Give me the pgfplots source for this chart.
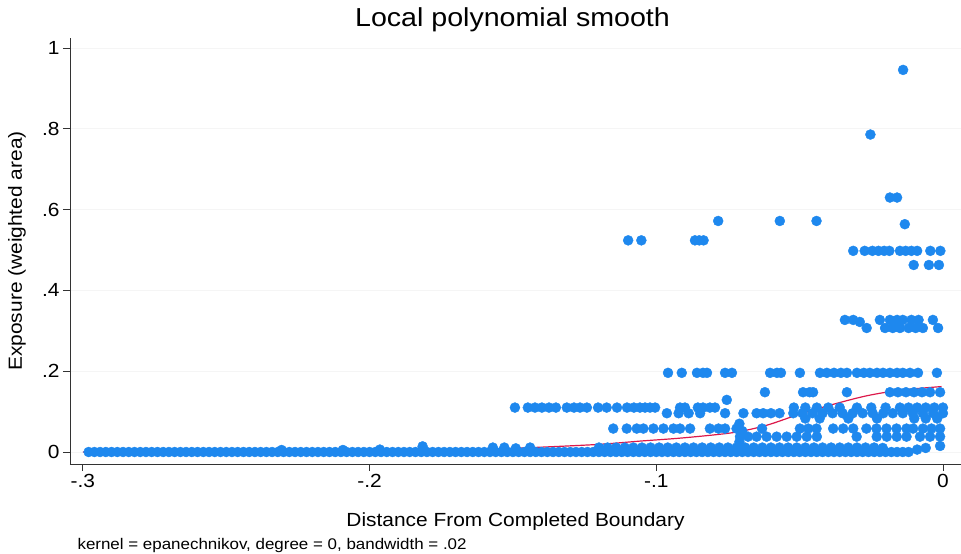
\documentclass[border=0pt]{standalone}
\usepackage{fontspec}
\setmainfont[FakeStretch=1.1]{Liberation Sans}
\usepackage{pgfplots}
\pgfplotsset{compat=1.18}

\definecolor{stblue}{RGB}{30,136,238}
\definecolor{stred}{RGB}{220,25,75}

\begin{document}
\begin{tikzpicture}
\useasboundingbox (-70pt,-90pt) rectangle (891pt,464pt);
\begin{axis}[
    name=ax,
    width=891pt, height=426pt, scale only axis,
    xmin=-0.3045, xmax=0.0063,
    ymin=-0.0297, ymax=1.025,
    axis x line*=bottom, axis y line*=left,
    axis line style={-, black!80, line width=0.8pt},
    tick align=outside, major tick length=7pt,
    tick style={black!80, line width=0.8pt},
    xtick={-0.3,-0.2,-0.1,0}, xticklabels={-.3,-.2,-.1,0},
    ytick={0,0.2,0.4,0.6,0.8,1}, yticklabels={0,.2,.4,.6,.8,1},
    ymajorgrids, grid style={black!4, line width=0.8pt},
    tick label style={font=\fontsize{19}{22}\selectfont},
    xlabel={Distance From Completed Boundary},
    ylabel={Exposure (weighted area)},
    label style={font=\fontsize{19}{22}\selectfont},
    xlabel style={at={(axis description cs:0.5,0)}, anchor=base, yshift=-62pt},
    ylabel style={at={(axis description cs:-0.0595,0.5)}, anchor=center},
    title={Local polynomial smooth},
    title style={at={(axis description cs:0.5,1)}, anchor=base, yshift=5pt, xshift=-3pt,
                 font=\fontsize{26}{30}\selectfont},
    dots/.style={only marks, mark=*, mark size=5pt, color=stblue, mark options={draw=none, fill=stblue}},
]
% bottom band, y = 0
\addplot[dots] coordinates {
(-0.298,0) (-0.296,0) (-0.294,0) (-0.292,0) (-0.290,0) (-0.288,0) (-0.286,0) (-0.284,0)
(-0.282,0) (-0.280,0) (-0.278,0) (-0.276,0) (-0.274,0) (-0.272,0) (-0.270,0) (-0.268,0)
(-0.266,0) (-0.264,0) (-0.262,0) (-0.260,0) (-0.258,0) (-0.256,0) (-0.254,0) (-0.252,0)
(-0.250,0) (-0.248,0) (-0.246,0) (-0.244,0) (-0.242,0) (-0.240,0) (-0.238,0) (-0.236,0)
(-0.234,0) (-0.232,0) (-0.230,0) (-0.228,0) (-0.226,0) (-0.224,0) (-0.222,0) (-0.220,0)
(-0.218,0) (-0.216,0) (-0.214,0) (-0.212,0) (-0.210,0) (-0.208,0) (-0.206,0) (-0.204,0)
(-0.202,0) (-0.200,0) (-0.198,0) (-0.196,0) (-0.194,0) (-0.192,0) (-0.190,0) (-0.188,0)
(-0.186,0) (-0.184,0) (-0.182,0) (-0.180,0) (-0.178,0) (-0.176,0) (-0.174,0) (-0.172,0)
(-0.170,0) (-0.168,0) (-0.166,0) (-0.164,0) (-0.162,0) (-0.160,0) (-0.158,0) (-0.156,0)
(-0.154,0) (-0.152,0) (-0.150,0) (-0.148,0) (-0.146,0) (-0.144,0) (-0.142,0) (-0.140,0)
(-0.138,0) (-0.136,0) (-0.134,0) (-0.132,0) (-0.130,0) (-0.128,0) (-0.126,0) (-0.124,0)
(-0.122,0) (-0.120,0) (-0.118,0) (-0.116,0) (-0.114,0) (-0.112,0) (-0.110,0) (-0.108,0)
(-0.106,0) (-0.104,0) (-0.102,0) (-0.100,0) (-0.098,0) (-0.096,0) (-0.094,0) (-0.092,0)
(-0.090,0) (-0.088,0) (-0.086,0) (-0.084,0) (-0.082,0) (-0.080,0) (-0.078,0) (-0.076,0)
(-0.074,0) (-0.072,0) (-0.070,0) (-0.068,0) (-0.066,0) (-0.064,0) (-0.062,0) (-0.060,0)
(-0.058,0) (-0.056,0) (-0.054,0) (-0.052,0) (-0.050,0) (-0.048,0) (-0.046,0) (-0.044,0)
(-0.042,0) (-0.040,0) (-0.038,0) (-0.036,0) (-0.034,0) (-0.032,0) (-0.030,0) (-0.028,0)
(-0.026,0) (-0.024,0) (-0.022,0) (-0.020,0) (-0.018,0) (-0.016,0) (-0.014,0) (-0.012,0)
(-0.009,0.006) (-0.006,0.010) (-0.001,0.015)
};
% small bumps and second low row
\addplot[dots] coordinates {
(-0.2307,0.005) (-0.2093,0.005) (-0.1964,0.006) (-0.1815,0.014) (-0.157,0.011)
(-0.153,0.011) (-0.149,0.009) (-0.144,0.011)
(-0.120,0.011) (-0.117,0.011) (-0.114,0.011) (-0.111,0.011) (-0.108,0.011) (-0.105,0.011)
(-0.102,0.011) (-0.099,0.011) (-0.096,0.011) (-0.093,0.011) (-0.090,0.011) (-0.087,0.011)
(-0.084,0.011) (-0.081,0.011) (-0.078,0.011) (-0.075,0.011) (-0.072,0.011) (-0.069,0.011)
(-0.066,0.011) (-0.063,0.011) (-0.060,0.011) (-0.057,0.011) (-0.054,0.011) (-0.051,0.011)
(-0.048,0.011) (-0.045,0.011) (-0.042,0.011) (-0.039,0.011) (-0.036,0.011) (-0.033,0.011)
(-0.030,0.011) (-0.027,0.011) (-0.024,0.011) (-0.021,0.010)
};
% row around .04
\addplot[dots] coordinates {
(-0.0708,0.038) (-0.0680,0.038) (-0.0650,0.038) (-0.0615,0.038) (-0.0580,0.038)
(-0.0545,0.038) (-0.0510,0.038) (-0.0475,0.038) (-0.0440,0.038) (-0.0301,0.038)
(-0.0231,0.038) (-0.0196,0.038) (-0.0161,0.038) (-0.0127,0.038) (-0.0080,0.038)
(-0.0045,0.038) (-0.0010,0.038)
(-0.0710,0.025) (-0.0710,0.070) (-0.0700,0.052)
};
% row around .06
\addplot[dots] coordinates {
(-0.1150,0.058) (-0.1103,0.058) (-0.1068,0.058) (-0.1045,0.058) (-0.1010,0.058)
(-0.0975,0.058) (-0.0940,0.058) (-0.0917,0.058) (-0.0882,0.058) (-0.0813,0.058)
(-0.0783,0.058) (-0.0760,0.058) (-0.0720,0.058) (-0.0631,0.058) (-0.0499,0.058)
(-0.0470,0.058) (-0.0441,0.058) (-0.0383,0.058) (-0.0348,0.058) (-0.0313,0.058)
(-0.0267,0.058) (-0.0232,0.058) (-0.0197,0.058) (-0.0162,0.058) (-0.0127,0.058)
(-0.0104,0.058) (-0.0070,0.058) (-0.0040,0.058) (-0.0010,0.058)
};
% rows around .08 and .1
\addplot[dots] coordinates {
(-0.0480,0.083) (-0.0430,0.083) (-0.0330,0.083) (-0.0230,0.083) (-0.0100,0.083)
(-0.0060,0.083) (-0.0020,0.083)
(-0.0963,0.096) (-0.0922,0.096) (-0.0887,0.096) (-0.0847,0.096) (-0.0760,0.096)
(-0.0696,0.096) (-0.0650,0.096) (-0.0627,0.096) (-0.0600,0.096) (-0.0570,0.096)
(-0.0522,0.096) (-0.0490,0.096) (-0.0455,0.096) (-0.0420,0.096) (-0.0385,0.096)
(-0.0350,0.096) (-0.0315,0.096) (-0.0280,0.096) (-0.0245,0.096) (-0.0208,0.096)
(-0.0175,0.096) (-0.0140,0.096) (-0.0105,0.096) (-0.0070,0.096) (-0.0034,0.096)
(0.0000,0.096)
};
% row around .11
\addplot[dots] coordinates {
(-0.1493,0.110) (-0.1448,0.110) (-0.1423,0.110) (-0.1399,0.110) (-0.1374,0.110)
(-0.1350,0.110) (-0.1312,0.110) (-0.1287,0.110) (-0.1266,0.110) (-0.1242,0.110)
(-0.1203,0.110) (-0.1173,0.110) (-0.1137,0.110) (-0.1102,0.110) (-0.1078,0.110)
(-0.1057,0.110) (-0.1039,0.110) (-0.1022,0.110) (-0.1004,0.110)
(-0.0917,0.110) (-0.0900,0.110) (-0.0855,0.110) (-0.0837,0.110) (-0.0813,0.110)
(-0.0795,0.110)
(-0.0520,0.110) (-0.0480,0.110) (-0.0440,0.110) (-0.0400,0.110) (-0.0360,0.110)
(-0.0300,0.110) (-0.0250,0.110) (-0.0200,0.110) (-0.0150,0.110) (-0.0120,0.110)
(-0.0090,0.110) (-0.0060,0.110) (-0.0030,0.110) (0.0000,0.110)
(-0.0754,0.129)
};
% row around .15
\addplot[dots] coordinates {
(-0.0621,0.148) (-0.0488,0.148) (-0.0465,0.148) (-0.0453,0.148) (-0.0335,0.148)
(-0.0185,0.148) (-0.0157,0.148) (-0.0129,0.148) (-0.0101,0.148) (-0.0073,0.148)
(-0.0045,0.148) (-0.0010,0.148)
};
% row around .2
\addplot[dots] coordinates {
(-0.0959,0.196) (-0.0911,0.196) (-0.0858,0.196) (-0.0837,0.196) (-0.0823,0.196)
(-0.0760,0.196) (-0.0736,0.196) (-0.0603,0.196) (-0.0579,0.196) (-0.0565,0.196)
(-0.0499,0.196) (-0.0429,0.196) (-0.0405,0.196) (-0.0380,0.196) (-0.0356,0.196)
(-0.0335,0.196) (-0.0300,0.196) (-0.0276,0.196) (-0.0255,0.196) (-0.0230,0.196)
(-0.0209,0.196) (-0.0185,0.196) (-0.0160,0.196) (-0.0140,0.196) (-0.0115,0.196)
(-0.0087,0.196) (-0.0021,0.196)
};
% rows around .3
\addplot[dots] coordinates {
(-0.0342,0.327) (-0.0313,0.327) (-0.0290,0.322) (-0.0220,0.327) (-0.0185,0.327)
(-0.0160,0.327) (-0.0140,0.327) (-0.0110,0.327) (-0.0085,0.327) (-0.0035,0.327)
(-0.0266,0.307) (-0.0202,0.307) (-0.0175,0.307) (-0.0150,0.307) (-0.0120,0.307)
(-0.0095,0.307) (-0.0070,0.307) (-0.0017,0.307)
};
% upper points
\addplot[dots] coordinates {
(-0.0313,0.498) (-0.0273,0.498) (-0.0246,0.498) (-0.0225,0.498) (-0.0205,0.498)
(-0.0187,0.498) (-0.0150,0.498) (-0.0130,0.498) (-0.0110,0.498) (-0.0090,0.498)
(-0.0044,0.498) (-0.0009,0.498)
(-0.0102,0.463) (-0.0049,0.463) (-0.0014,0.463)
(-0.1098,0.524) (-0.1052,0.524) (-0.0865,0.524) (-0.0850,0.524) (-0.0835,0.524)
(-0.0784,0.572) (-0.0569,0.572) (-0.0441,0.572) (-0.0133,0.564)
(-0.0185,0.630) (-0.0160,0.630)
(-0.0253,0.786) (-0.0139,0.946)
};
% local polynomial smooth
\addplot[stred, line width=1.2pt, smooth] coordinates {
(-0.300,0.000) (-0.260,0.000) (-0.220,0.001) (-0.190,0.002) (-0.170,0.004)
(-0.154,0.008) (-0.140,0.012) (-0.1197,0.019) (-0.1057,0.027) (-0.0906,0.035)
(-0.0732,0.048) (-0.0616,0.066) (-0.0499,0.094) (-0.0383,0.118) (-0.0267,0.139)
(-0.0150,0.153) (-0.0005,0.162)
};
\end{axis}
\node[anchor=base west, font=\fontsize{15.4}{18}\selectfont]
  at ([xshift=4pt, yshift=-85pt]ax.south west)
  {kernel = epanechnikov, degree = 0, bandwidth = .02};
\end{tikzpicture}
\end{document}
